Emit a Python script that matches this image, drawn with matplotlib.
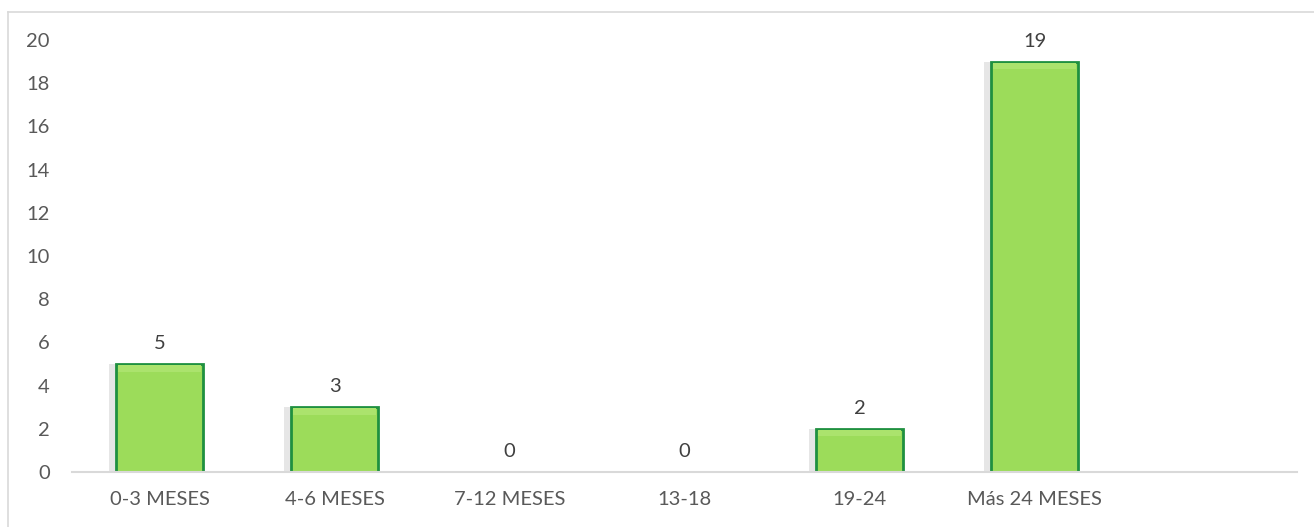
import matplotlib.pyplot as plt
from matplotlib.lines import Line2D

# months-in-position counts
categories = ["0-3 MESES", "4-6 MESES", "7-12 MESES", "13-18", "19-24", "Más 24 MESES"]
counts = [5, 3, 0, 0, 2, 19]
yticks = [0, 2, 4, 6, 8, 10, 12, 14, 16, 18, 20]

plt.rcParams['font.family'] = ['Lato', 'DejaVu Sans']

fig = plt.figure(figsize=(13.14, 5.27), dpi=100)
ax = fig.add_axes([72 / 1314, 1 - 472 / 527, 1225 / 1314, 432 / 527])

x = list(range(len(categories)))

# soft shadow behind the bars
ax.bar([i - 0.02 for i in x], counts, width=0.54, color="#e6e6e6", zorder=1)
bars = ax.bar(x, counts, width=0.5, color="#9cdc5a", edgecolor="#1f9040",
              linewidth=2, zorder=2)
# faint lighter bevel at the top of each bar
for b, v in zip(bars, counts):
    if v > 0:
        ax.bar(b.get_x() + b.get_width() / 2, 0.3, bottom=v - 0.35, width=0.47,
               color="#abe36d", zorder=3)

for i, v in zip(x, counts):
    ax.text(i, v + 0.55, str(v), ha="center", va="bottom", fontsize=14.5, color="#404040")

ax.set_xlim(-0.5, 6.5)
ax.set_ylim(0, 20)
ax.set_yticks(yticks)
ax.set_xticks(x)
ax.set_xticklabels(categories)
ax.tick_params(axis="both", length=0, labelsize=14.5, labelcolor="#595959")
ax.tick_params(axis="y", pad=16)
ax.tick_params(axis="x", pad=14)

for side in ["top", "right", "left"]:
    ax.spines[side].set_visible(False)
ax.spines["bottom"].set_color("#d9d9d9")
ax.spines["bottom"].set_linewidth(1.5)

# chart area frame (top and left edges)
fig.add_artist(Line2D([8 / 1314, 1.0], [1 - 12 / 527, 1 - 12 / 527],
                      transform=fig.transFigure, color="#d9d9d9", lw=1.2))
fig.add_artist(Line2D([8 / 1314, 8 / 1314], [0, 1 - 12 / 527],
                      transform=fig.transFigure, color="#d9d9d9", lw=1.2))

fig.savefig("out.png", dpi=100)
